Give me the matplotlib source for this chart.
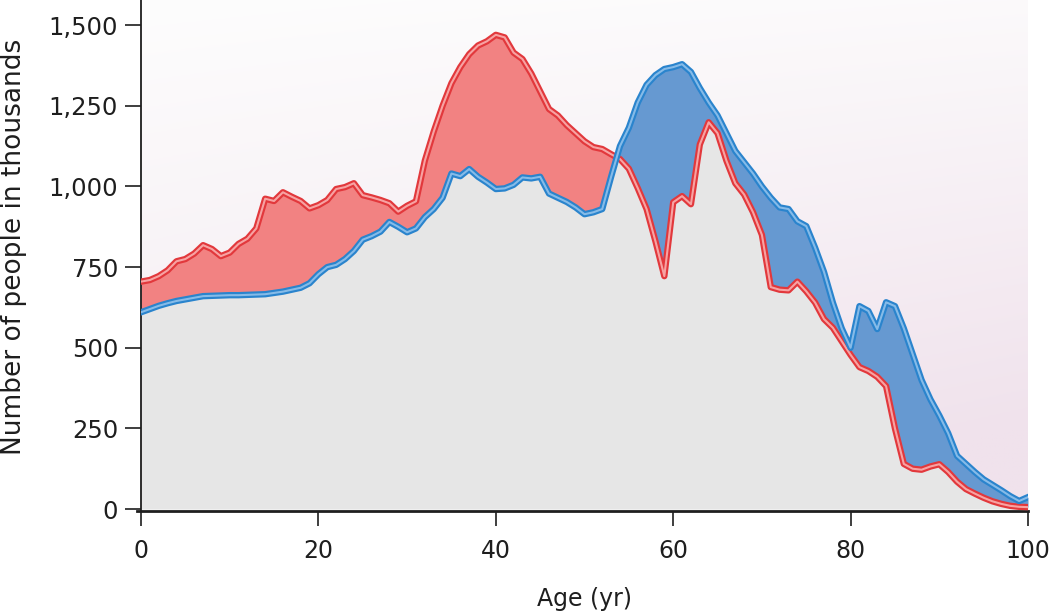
import numpy as np
import matplotlib.pyplot as plt
from matplotlib.ticker import FuncFormatter

# ===================== data =====================
ages = list(range(0, 101))

# red series (thousands)
red_vals = [705, 710, 722, 740, 768, 775, 792, 818, 806, 784,
            795, 822, 838, 870, 962, 955, 982, 968, 955, 932,
            942, 958, 992, 998, 1010, 973, 966, 958, 948, 922,
            940, 954, 1080, 1170, 1250, 1320, 1370, 1410, 1437, 1450,
            1470, 1462, 1415, 1395, 1350, 1295, 1240, 1220, 1190, 1165,
            1140, 1122, 1116, 1100, 1085, 1055, 995, 930, 830, 722,
            951, 970, 945, 1130, 1199, 1165, 1080, 1010, 975, 920,
            850, 688, 680, 678, 705, 675, 640, 589, 562, 520,
            478, 440, 428, 410, 381, 250, 140, 125, 122, 132,
            139, 115, 85, 62, 48, 35, 24, 16, 10, 7,
            6]

# blue series (thousands)
blue_vals = [610, 620, 630, 638, 645, 650, 655, 660, 661, 662,
             663, 663, 664, 665, 666, 670, 674, 680, 686, 700,
             728, 750, 757, 775, 800, 835, 846, 860, 890, 875,
             858, 870, 905, 930, 965, 1040, 1032, 1054, 1030, 1012,
             992, 994, 1005, 1028, 1025, 1030, 978, 965, 952, 935,
             914, 920, 930, 1030, 1125, 1182, 1260, 1315, 1345, 1364,
             1370, 1379, 1355, 1305, 1260, 1220, 1165, 1110, 1075, 1040,
             1000, 965, 935, 930, 892, 877, 810, 735, 640, 560,
             500, 629, 614, 558, 641, 629, 560, 480, 400, 340,
             290, 235, 165, 140, 115, 92, 75, 58, 40, 25,
             37]

x_ticks = [0, 20, 40, 60, 80, 100]
y_ticks = [0, 250, 500, 750, 1000, 1250, 1500]

# ===================== style =====================
RED_LINE = '#e2383c'
RED_CORE = '#f7a3a3'
RED_FILL = '#f28282'
BLUE_LINE = '#2a84cd'
BLUE_CORE = '#86bbe8'
BLUE_FILL = '#6699d1'
GRAY_FILL = '#e6e6e6'
TEXT = '#1e1e1e'

plt.rcParams['font.family'] = ['DejaVu Sans']

x = np.array(ages)
red = np.array(red_vals)
blue = np.array(blue_vals)

fig = plt.figure(figsize=(10.5, 6.14), dpi=100)
ax = fig.add_axes([141 / 1050, 1 - 511 / 614, (1028 - 141) / 1050, 511 / 614])
ax.set_xlim(0, 100)
ax.set_ylim(-6, 1578)

# background gradient (white at top, pale lavender toward bottom right)
ny, nx = 200, 200
gy = np.linspace(0, 1, ny)[:, None]
gx = np.linspace(0, 1, nx)[None, :]
t = np.clip(0.7 * gy + 0.35 * gx * gy + 0.12 * gx, 0, 1)
top = np.array([253, 253, 253]) / 255
bot = np.array([240, 226, 236]) / 255
img = top[None, None, :] + (bot - top)[None, None, :] * t[:, :, None]
ax.imshow(img[::-1], extent=[0, 100, 0, 1578], aspect='auto', origin='lower', zorder=0)

# fills
low = np.minimum(red, blue)
ax.fill_between(x, 0, low, color=GRAY_FILL, lw=0, zorder=1)
ax.fill_between(x, blue, red, where=red >= blue, interpolate=True, color=RED_FILL, lw=0, zorder=2)
ax.fill_between(x, red, blue, where=blue >= red, interpolate=True, color=BLUE_FILL, lw=0, zorder=2)

# lines with lighter core
ax.plot(x, red, color=RED_LINE, lw=4.6, solid_joinstyle='round', zorder=3)
ax.plot(x, red, color=RED_CORE, lw=1.5, solid_joinstyle='round', zorder=4)
ax.plot(x, blue, color=BLUE_LINE, lw=4.6, solid_joinstyle='round', zorder=5)
ax.plot(x, blue, color=BLUE_CORE, lw=1.5, solid_joinstyle='round', zorder=6)

# axes
for s in ['top', 'right']:
    ax.spines[s].set_visible(False)
ax.spines['left'].set_linewidth(1.3)
ax.spines['bottom'].set_linewidth(2.0)
ax.spines['left'].set_color(TEXT)
ax.spines['bottom'].set_color(TEXT)
ax.spines['bottom'].set_bounds(-0.5, 100)

ax.set_xticks(x_ticks)
ax.set_yticks(y_ticks)
ax.yaxis.set_major_formatter(FuncFormatter(lambda v, p: f'{int(v):,}'))
ax.tick_params(axis='y', length=11.5, width=1.2, pad=5, labelsize=17.5, colors=TEXT)
ax.tick_params(axis='x', length=11, width=1.2, pad=9, labelsize=17, colors=TEXT)

ax.set_ylabel('Number of people in thousands', fontsize=19, color=TEXT, va='center')
ax.yaxis.set_label_coords(-0.143, 0.517)
ax.set_xlabel('Age (yr)', fontsize=17, color=TEXT, va='center')
ax.xaxis.set_label_coords(0.5, -0.172)

plt.savefig('out.png', dpi=100)
